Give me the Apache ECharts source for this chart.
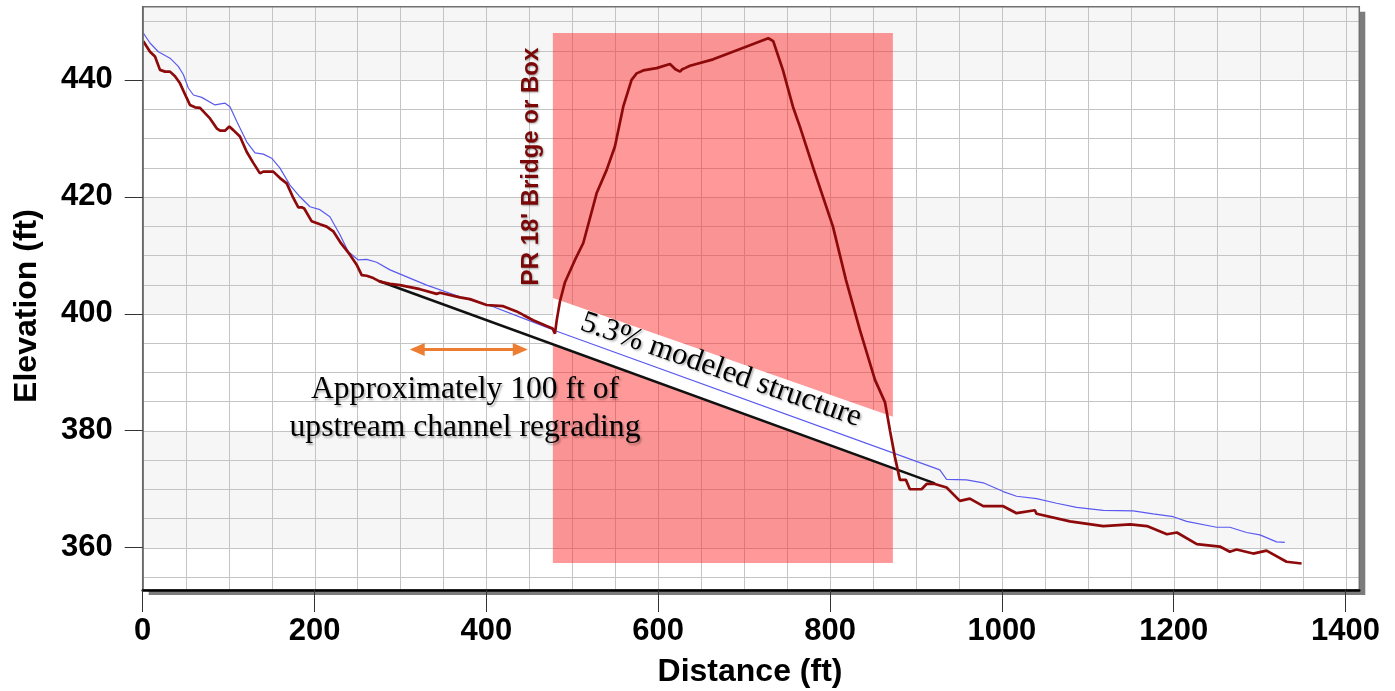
<!DOCTYPE html>
<html><head><meta charset="utf-8">
<script src="https://cdn.jsdelivr.net/npm/echarts@6/dist/echarts.min.js"></script>
<style>html,body{margin:0;padding:0;background:#fff}#c{width:1395px;height:691px}</style>
</head><body><div id="c"></div>
<script>
// ---- data ----
const xTicks = [0, 200, 400, 600, 800, 1000, 1200, 1400];
const yTicks = [360, 380, 400, 420, 440];
const X_MIN = 0, X_MAX = 1416, Y_MIN = 352.77, Y_MAX = 452.5;

// existing ground profile (dark red)
const ground = [[0.7,446.6],[8.5,444.8],[14.3,444.0],[20.1,441.7],[26,441.4],[31.8,441.4],[37.6,440.6],[43.4,439.4],[51.2,436.9],[55,435.7],[60.9,435.3],[66.7,435.2],[78.3,433.4],[86.1,431.7],[90,431.3],[95.8,431.3],[100.8,432.0],[105.5,431.4],[113.2,430.3],[121,427.7],[128.7,425.8],[136.5,424.0],[140.4,424.3],[152,424.3],[159.8,423.2],[167.6,422.3],[175.3,419.8],[181.1,418.2],[185,418.2],[188,418.0],[190,418.2],[196.7,415.8],[206.3,415.3],[214.1,414.9],[221.8,414.1],[229.6,412.3],[241.2,410.1],[249,408.4],[254.9,406.6],[260.7,406.5],[268.4,406.1],[276.2,405.5],[287.8,405.1],[299.5,404.9],[322.7,404.2],[342.1,403.4],[346,403.6],[369.2,402.8],[380.9,402.5],[400.3,401.5],[419.6,401.3],[435.2,400.4],[442.9,399.8],[454.5,398.9],[470.1,397.9],[477.1,397.5],[479.8,396.6],[482,399.0],[485.6,402.1],[491.5,405.4],[503.1,409.2],[512.8,412.1],[528.3,420.6],[540,424.6],[549.6,428.6],[559.3,435.4],[569,440.0],[574.9,441.1],[582.6,441.6],[598.2,442.0],[613.7,442.7],[620,441.8],[625.4,441.4],[628,441.8],[631.1,442.0],[637,442.4],[664,443.5],[703,445.7],[728.1,447.1],[733.9,446.6],[745.1,441.7],[756.8,435.4],[764.9,432.0],[780.1,425.1],[803.4,414.9],[818.5,405.8],[834.8,397.2],[852.3,388.7],[863.9,384.9],[869.7,380.1],[875.5,375.5],[881.3,371.6],[888.3,371.6],[892.9,370.0],[906.5,370.0],[912.4,370.9],[922,370.9],[935.6,370.3],[951.1,368.0],[962.7,368.4],[978.3,367.1],[1001.6,367.1],[1017.1,365.9],[1038.4,366.4],[1040.4,365.8],[1079.2,364.5],[1118,363.7],[1149.4,364.0],[1168.8,363.7],[1192.1,362.3],[1203.7,362.6],[1226.9,360.6],[1253.7,360.2],[1265.3,359.3],[1273.1,359.7],[1292.5,359.0],[1308,359.5],[1331.3,357.6],[1348.8,357.3]];

// water surface (blue)
const water = [[0.7,448.0],[8.5,446.3],[18.2,444.8],[31.8,443.7],[41.4,442.3],[47.3,440.9],[53.1,438.6],[59,437.4],[68.7,437.0],[84.1,435.7],[95.8,436.0],[101.6,435.4],[109.4,432.9],[121,429.4],[130.7,427.5],[140.4,427.3],[150.1,426.6],[159.8,424.9],[171.4,422.0],[183,420.0],[194.7,418.3],[206.3,417.8],[217.9,416.6],[229.6,413.5],[239.3,410.6],[250.9,409.2],[260.7,409.3],[272.3,408.8],[287.8,407.5],[330.5,404.9],[369.2,402.9],[408,401.2],[446.9,399.0],[481.8,397.0],[927.8,373.3],[935.6,371.7],[958.9,371.6],[978.3,371.1],[1001.6,369.6],[1017.1,368.8],[1040.4,368.4],[1063.7,367.6],[1087,366.9],[1118,366.4],[1152.8,366.3],[1176,365.8],[1199.4,365.3],[1215,364.5],[1249.8,363.5],[1265.3,363.5],[1284.8,362.6],[1300.3,362.2],[1319.7,361.0],[1329.3,360.9]];

// 5.3% modeled structure grade (black)
const proposed = [[275,405.6],[922,371.0]];
// structure box [x0, y0, x1, y1]
const structureBox = [[477.4, 357.4, 873.1, 448.0]];
// alternating background bands [y0, y1]
const bandRanges = [[440, 452.5], [400, 420], [360, 380]];
// white label band polygon corners
const labelBand = [[477.6,402.7],[873.3,382.4],[873.3,373.6],[477.6,394.8]];
// regrading arrow end points
const regradeArrow = [[319.5,393.9],[439.5,393.9]];

const gridX = []; for (let v = 50; v <= 1400; v += 50) gridX.push(v);
const gridY = []; for (let v = 355; v <= 450; v += 5) gridY.push(v);

// ---- chart ----
const chart = echarts.init(document.getElementById('c'));
const GRID = {left: 142.7, right: 35.7, top: 6.7, bottom: 101};
const PW = 1395 - GRID.left - GRID.right, PH = 691 - GRID.top - GRID.bottom;
const sans = '"Liberation Sans", Arial, sans-serif';
const serif = '"Liberation Serif", "Times New Roman", serif';

function clipRect(cs){ return {x: cs.x, y: cs.y, width: cs.width, height: cs.height}; }
function txt(o){ return Object.assign({fill: '#000', align: 'center', verticalAlign: 'middle', textAlign: 'center', textVerticalAlign: 'middle'}, o); }

chart.setOption({
  animation: false,
  grid: Object.assign({show: false}, GRID),
  xAxis: {
    type: 'value', min: X_MIN, max: X_MAX, z: 60,
    axisLine: {show: true, onZero: false, lineStyle: {color: '#000', width: 2.5}},
    axisTick: {show: true, length: 22, customValues: xTicks, lineStyle: {color: '#333', width: 1}},
    axisLabel: {customValues: xTicks, formatter: v => String(v), margin: 26, color: '#000', fontFamily: sans, fontWeight: 'bold', fontSize: 31},
    splitLine: {show: false}
  },
  yAxis: {
    type: 'value', min: Y_MIN, max: Y_MAX, z: 60,
    axisLine: {show: true, onZero: false, lineStyle: {color: '#666', width: 1.5}},
    axisTick: {show: true, length: 18, customValues: yTicks, lineStyle: {color: '#333', width: 1}},
    axisLabel: {customValues: yTicks, margin: 30, color: '#000', fontFamily: sans, fontWeight: 'bold', fontSize: 31},
    splitLine: {show: false}
  },
  series: [
    { // background bands
      type: 'custom', z: 1, silent: true, data: bandRanges.map(b => [X_MIN, b[0], b[1]]),
      encode: {x: 0, y: [1, 2]},
      renderItem: (params, api) => {
        const cs = params.coordSys;
        const yTop = api.coord([X_MIN, api.value(2)])[1];
        const yBot = api.coord([X_MIN, api.value(1)])[1];
        return {type: 'rect', shape: echarts.graphic.clipRectByRect({x: cs.x, y: yTop, width: cs.width, height: yBot - yTop}, clipRect(cs)),
          style: {fill: '#f6f6f6'}};
      }
    },
    { // vertical grid lines
      type: 'custom', z: 2, silent: true, data: gridX.map(v => [v, 400]), encode: {x: 0, y: 1},
      renderItem: (params, api) => {
        const cs = params.coordSys;
        const x = Math.round(api.coord([api.value(0), 400])[0]) + 0.5;
        return {type: 'line', shape: {x1: x, y1: cs.y, x2: x, y2: cs.y + cs.height}, style: {stroke: '#c4c4c4', lineWidth: 1}};
      }
    },
    { // horizontal grid lines
      type: 'custom', z: 2, silent: true, data: gridY.map(v => [100, v]), encode: {x: 0, y: 1},
      renderItem: (params, api) => {
        const cs = params.coordSys;
        const y = Math.round(api.coord([100, api.value(1)])[1]) + 0.5;
        return {type: 'line', shape: {x1: cs.x, y1: y, x2: cs.x + cs.width, y2: y}, style: {stroke: '#c4c4c4', lineWidth: 1}};
      }
    },
    { // structure box
      type: 'custom', z: 3, silent: true, data: structureBox, encode: {x: [0, 2], y: [1, 3]},
      renderItem: (params, api) => {
        const p0 = api.coord([api.value(0), api.value(3)]);
        const p1 = api.coord([api.value(2), api.value(1)]);
        return {type: 'rect', shape: {x: p0[0], y: p0[1], width: p1[0] - p0[0], height: p1[1] - p0[1]},
          style: {fill: 'rgba(255,30,30,0.46)'}};
      }
    },
    { // white label band
      type: 'custom', z: 4, silent: true, data: [labelBand.flat()], encode: {x: [0, 2, 4, 6], y: [1, 3, 5, 7]},
      renderItem: (params, api) => {
        const pts = [];
        for (let i = 0; i < 4; i++) pts.push(api.coord([api.value(2 * i), api.value(2 * i + 1)]));
        return {type: 'polygon', shape: {points: pts}, style: {fill: '#ffffff'}};
      }
    },
    {
      name: 'Proposed', type: 'line', z: 6, data: proposed, showSymbol: false, silent: true,
      lineStyle: {color: '#111', width: 2.6},
      markLine: {
        silent: true, symbol: ['triangle', 'triangle'], symbolSize: [13, 15],
        label: {show: false},
        lineStyle: {color: '#ed7d31', width: 3, type: 'solid'},
        data: [[{coord: regradeArrow[0]}, {coord: regradeArrow[1]}]]
      }
    },
    {
      name: 'WS', type: 'line', z: 7, data: water, showSymbol: false, silent: true,
      lineStyle: {color: '#5a5af0', width: 1.2}
    },
    {
      name: 'Ground', type: 'line', z: 8, data: ground, showSymbol: false, silent: true,
      lineStyle: {color: '#8e0a0a', width: 2.7}
    }
  ],
  graphic: [
    // plot drop shadow and background
    {type: 'rect', z: -20, silent: true, shape: {x: GRID.left + 6, y: GRID.top + 5, width: PW, height: PH}, style: {fill: '#7c7c7c'}},
    {type: 'rect', z: -19, silent: true, shape: {x: GRID.left, y: GRID.top, width: PW, height: PH}, style: {fill: '#ffffff'}},
    // plot border
    {type: 'rect', z: 50, silent: true, shape: {x: GRID.left, y: GRID.top, width: PW, height: PH}, style: {fill: null, stroke: '#707070', lineWidth: 1.5}},
    {type: 'text', x: 750, y: 672, z: 100, style: txt({text: 'Distance (ft)', font: 'bold 32px ' + sans})},
    {type: 'text', x: 27, y: 306, rotation: Math.PI / 2, z: 100, style: txt({text: 'Elevation (ft)', font: 'bold 32px ' + sans})},
    {type: 'text', x: 531.5, y: 166.5, rotation: Math.PI / 2, z: 100, style: txt({text: "PR 18' Bridge or Box", font: 'bold 24px ' + sans, fill: '#7a0808', textShadowColor: 'rgba(0,0,0,0.35)', textShadowBlur: 2, textShadowOffsetX: 1, textShadowOffsetY: 1})},
    {type: 'text', x: 721, y: 370, rotation: -0.335, z: 100, style: txt({text: '5.3% modeled structure', font: '31px ' + serif, textShadowColor: 'rgba(0,0,0,0.3)', textShadowBlur: 2, textShadowOffsetX: 1.5, textShadowOffsetY: 1.5})},
    {type: 'text', x: 465, y: 409, z: 100, style: txt({text: 'Approximately 100 ft of\nupstream channel regrading', font: '31.6px ' + serif, lineHeight: 38, textShadowColor: 'rgba(0,0,0,0.3)', textShadowBlur: 2, textShadowOffsetX: 1.5, textShadowOffsetY: 1.5})}
  ]
});
</script>
</body></html>
